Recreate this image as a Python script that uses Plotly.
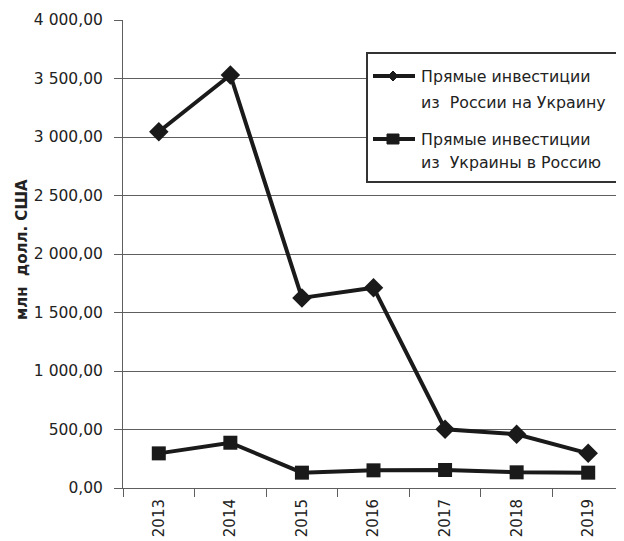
import plotly.graph_objects as go

years = ["2013", "2014", "2015", "2016", "2017", "2018", "2019"]
ru_to_ua = [3045, 3530, 1625, 1712, 502, 459, 296]
ua_to_ru = [296, 387, 131, 151, 154, 134, 131]
legend_lines = [["Прямые инвестиции", "из  России на Украину"],
                ["Прямые инвестиции", "из  Украины в Россию"]]
y_ticks = [0, 500, 1000, 1500, 2000, 2500, 3000, 3500, 4000]
y_tick_text = ["0,00", "500,00", "1 000,00", "1 500,00", "2 000,00",
               "2 500,00", "3 000,00", "3 500,00", "4 000,00"]

FONT = "DejaVu Sans"
DARK = "#1a1a1a"
GRID = "#5e5e5e"
TXT = "#222222"

OFF = 8  # default page body margin
W, H = 624 - OFF, 541 - OFF
# window-pixel plot box: left 123, top 20, right 624, bottom 488
L, R, T, B = 123 - OFF, 0, 20 - OFF, 541 - 488
PW, PH = W - L - R, H - T - B


def px(x):
    return (x - OFF - L) / PW


def py(y):
    return (H - B - (y - OFF)) / PH


fig = go.Figure()
fig.add_trace(go.Scatter(
    x=years, y=ru_to_ua, mode="lines+markers", showlegend=False,
    line=dict(color=DARK, width=4),
    marker=dict(symbol="diamond", size=15, color=DARK),
))
fig.add_trace(go.Scatter(
    x=years, y=ua_to_ru, mode="lines+markers", showlegend=False,
    line=dict(color=DARK, width=4),
    marker=dict(symbol="square", size=14, color=DARK),
))

# legend drawn as decoration
shapes = [dict(type="rect", xref="paper", yref="paper",
               x0=px(367), x1=px(623), y0=py(53), y1=py(182),
               line=dict(color="#333", width=2), fillcolor="white", layer="above")]
annotations = []
sym_y = [76, 139]
line_y = [[76, 102], [139, 162]]
for i in range(2):
    yy = sym_y[i]
    shapes.append(dict(type="line", xref="paper", yref="paper",
                       x0=px(373), x1=px(415), y0=py(yy), y1=py(yy),
                       line=dict(color=DARK, width=4), layer="above"))
    cx = 393
    if i == 0:
        path = (f"M {px(cx-5)} {py(yy)} L {px(cx)} {py(yy-5)} "
                f"L {px(cx+5)} {py(yy)} L {px(cx)} {py(yy+5)} Z")
        shapes.append(dict(type="path", xref="paper", yref="paper", path=path,
                           fillcolor=DARK, line=dict(color=DARK, width=1), layer="above"))
    else:
        shapes.append(dict(type="rect", xref="paper", yref="paper",
                           x0=px(cx-6), x1=px(cx+6), y0=py(yy+5), y1=py(yy-5),
                           fillcolor=DARK, line=dict(color=DARK, width=1), layer="above"))
    for j, t in enumerate(legend_lines[i]):
        annotations.append(dict(text=t, xref="paper", yref="paper",
                                x=px(419), y=py(line_y[i][j]),
                                xanchor="left", yanchor="middle", showarrow=False,
                                font=dict(family=FONT, size=15.8, color=TXT)))

annotations.append(dict(
    text="<b>млн  долл. США</b>", textangle=-90,
    xref="paper", yref="paper", x=px(22), y=py(250),
    xanchor="center", yanchor="middle",
    showarrow=False, font=dict(family=FONT, size=15, color=TXT),
))

fig.update_layout(
    width=W, height=H,
    margin=dict(l=L, r=R, t=T, b=B, pad=0),
    paper_bgcolor="white", plot_bgcolor="white",
    font=dict(family=FONT, size=15, color=TXT),
    showlegend=False,
    xaxis=dict(
        type="category", showgrid=False, showline=True, linecolor=GRID, linewidth=1,
        ticks="outside", ticklen=8, tickcolor=GRID, tickson="boundaries",
        tickangle=-90, tickfont=dict(family=FONT, size=15, color=TXT),
        range=[-0.5, 6.5], automargin=False, ticklabelstandoff=4,
    ),
    yaxis=dict(
        range=[0, 4000], tickvals=y_ticks, ticktext=y_tick_text,
        showgrid=True, gridcolor=GRID, gridwidth=1,
        showline=True, linecolor=GRID, linewidth=1,
        ticks="outside", ticklen=8, tickcolor=GRID,
        tickfont=dict(family=FONT, size=15.5, color=TXT),
        zeroline=False, automargin=False, ticklabelstandoff=8,
    ),
    shapes=shapes,
    annotations=annotations,
)

fig.write_html("out.html")
